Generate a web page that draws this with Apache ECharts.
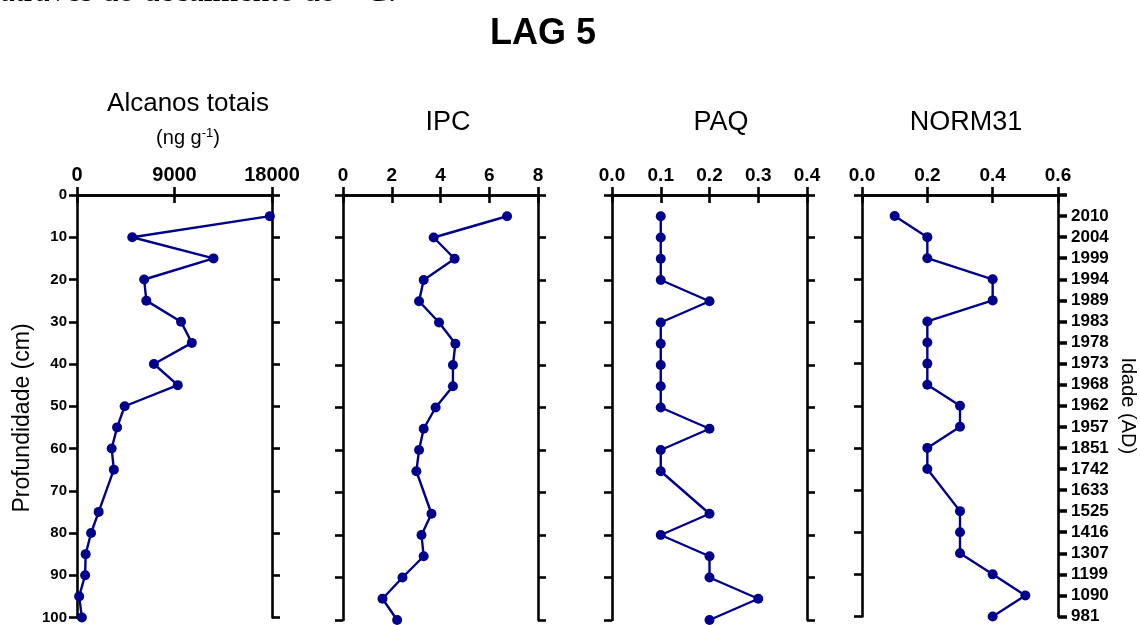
<!DOCTYPE html>
<html>
<head>
<meta charset="utf-8">
<script src="https://cdn.jsdelivr.net/npm/echarts@6/dist/echarts.min.js"></script>
<style>
  html, body { margin: 0; padding: 0; background: #fff; }
  #chart { width: 1140px; height: 625px; }
</style>
</head>
<body>
<div id="chart"></div>
<script>
// profundidade (cm) de cada amostra
var depths = [5, 10, 15, 20, 25, 30, 35, 40, 45, 50, 55, 60, 65, 75, 80, 85, 90, 95, 100]
var alcanos = [17800, 5100, 12600, 6200, 6400, 9600, 10600, 7100, 9300, 4400, 3700, 3200, 3400, 2000, 1300, 800, 750, 200, 450]
var ipc = [6.73, 3.72, 4.58, 3.31, 3.12, 3.94, 4.61, 4.51, 4.51, 3.8, 3.31, 3.12, 3.01, 3.63, 3.22, 3.31, 2.44, 1.62, 2.22]
var paq = [0.1, 0.1, 0.1, 0.1, 0.2, 0.1, 0.1, 0.1, 0.1, 0.1, 0.2, 0.1, 0.1, 0.2, 0.1, 0.2, 0.2, 0.3, 0.2]
var norm31 = [0.1, 0.2, 0.2, 0.4, 0.4, 0.2, 0.2, 0.2, 0.2, 0.3, 0.3, 0.2, 0.2, 0.3, 0.3, 0.3, 0.4, 0.5, 0.4]

// idade (AD) no eixo da direita
var ageDepths = [5, 10, 15, 20, 25, 30, 35, 40, 45, 50, 55, 60, 65, 70, 75, 80, 85, 90, 95, 100]
var ages = ['2010', '2004', '1999', '1994', '1989', '1983', '1978', '1973', '1968', '1962', '1957', '1851', '1742', '1633', '1525', '1416', '1307', '1199', '1090', '981']

var panels = [
  { name: 'alcanos', data: alcanos, min: 0, max: 18000, interval: 9000, dec: 0, left: 77, width: 195 },
  { name: 'ipc', data: ipc, min: 0, max: 8, interval: 2, dec: 0, left: 343, width: 195 },
  { name: 'paq', data: paq, min: 0, max: 0.4, interval: 0.1, dec: 1, left: 612, width: 195 },
  { name: 'norm31', data: norm31, min: 0, max: 0.6, interval: 0.2, dec: 1, left: 862, width: 196 }
]

var black = '#000'
var navy = '#00008b'
var font = 'Arial, "Liberation Sans"'
var lineStyle = { color: black, width: 2.6 }
var tickStyle = { color: black, width: 2.6 }

var chart = echarts.init(document.getElementById('chart'), null, { renderer: 'canvas' })

var grid = [], xAxis = [], yAxis = [], series = []

panels.forEach(function (p, i) {
  grid.push({ left: p.left, width: p.width, top: 195, bottom: 5, containLabel: false })

  // eixo superior com rótulos
  xAxis.push({
    type: 'value', gridIndex: i, position: 'top',
    min: p.min, max: p.max, interval: p.interval,
    axisLine: { show: true, lineStyle: lineStyle },
    axisTick: { show: true, inside: false, length: 8, lineStyle: tickStyle },
    axisLabel: {
      margin: 10, color: black, fontFamily: font, fontWeight: 'bold',
      fontSize: i == 0 ? 20 : 19,
      formatter: function (v) { return v.toFixed(p.dec) }
    },
    splitLine: { show: false }
  })
  // eixo inferior, só traços
  xAxis.push({
    type: 'value', gridIndex: i, position: 'bottom',
    min: p.min, max: p.max, interval: p.interval,
    axisLine: { show: true, lineStyle: lineStyle },
    axisTick: { show: true, inside: false, length: 8, lineStyle: tickStyle },
    axisLabel: { show: false },
    splitLine: { show: false }
  })

  // profundidade à esquerda
  yAxis.push({
    type: 'value', gridIndex: i, position: 'left', inverse: true,
    min: 0, max: 100, interval: 10,
    axisLine: { show: true, onZero: false, lineStyle: lineStyle },
    axisTick: { show: true, inside: false, length: 8, lineStyle: tickStyle },
    axisLabel: {
      show: i == 0, margin: 10, color: black, fontSize: 15, fontWeight: 'bold', fontFamily: font
    },
    splitLine: { show: false }
  })

  // direita: traços, e idades no último painel
  var last = i == panels.length - 1
  yAxis.push({
    type: 'value', gridIndex: i, position: 'right', inverse: true,
    min: 0, max: 100, interval: last ? 5 : 10,
    name: last ? 'Idade (AD)' : '',
    nameLocation: 'middle', nameGap: 60, nameRotate: -90,
    nameTextStyle: { color: black, fontSize: 20, fontFamily: font },
    axisLine: { show: true, onZero: false, lineStyle: lineStyle },
    axisTick: { show: true, inside: false, length: last ? 9 : 8, lineStyle: { color: black, width: last ? 3.5 : 2.6 } },
    axisLabel: {
      show: last, margin: 13, color: black, fontSize: 17, fontWeight: 'bold', fontFamily: font,
      formatter: function (v) {
        var k = ageDepths.indexOf(v)
        return k < 0 ? '' : ages[k]
      }
    },
    splitLine: { show: false }
  })

  series.push({
    name: p.name, type: 'line',
    xAxisIndex: i * 2, yAxisIndex: i * 2,
    data: p.data.map(function (v, k) { return [v, depths[k]] }),
    symbol: 'circle', symbolSize: 10,
    lineStyle: { color: navy, width: 2.4 },
    itemStyle: { color: navy },
    animation: false
  })
})

var titles = [
  { text: 'LAG 5', left: 538, top: 11, textAlign: 'center', textStyle: { fontSize: 36, fontWeight: 'bold', color: black, fontFamily: font } },
  { text: 'Alcanos totais', left: 183, top: 86, textAlign: 'center', textStyle: { fontSize: 26, fontWeight: 'normal', color: black, fontFamily: font } },
  {
    text: '(ng g{sup|-1})', left: 183, top: 122, textAlign: 'center',
    textStyle: {
      fontSize: 20, fontWeight: 'normal', color: black, fontFamily: font,
      rich: { sup: { fontSize: 13, verticalAlign: 'top', padding: [0, 0, 10, 0], color: black, fontFamily: font } }
    }
  },
  { text: 'IPC', left: 443, top: 104, textAlign: 'center', textStyle: { fontSize: 27, fontWeight: 'normal', color: black, fontFamily: font } },
  { text: 'PAQ', left: 716, top: 104, textAlign: 'center', textStyle: { fontSize: 27, fontWeight: 'normal', color: black, fontFamily: font } },
  { text: 'NORM31', left: 961, top: 104, textAlign: 'center', textStyle: { fontSize: 27, fontWeight: 'normal', color: black, fontFamily: font } }
]

chart.setOption({
  backgroundColor: '#fff',
  animation: false,
  title: titles,
  grid: grid,
  xAxis: xAxis,
  yAxis: yAxis,
  series: series,
  graphic: [
    {
      type: 'text', left: 0, top: -24,
      style: { text: 'através do decaimento do ¹⁴C.', font: '33px "Liberation Serif"', fill: black }
    },
    {
      type: 'text', x: 23, y: 418, rotation: Math.PI / 2,
      style: { text: 'Profundidade (cm)', font: '23px Arial, "Liberation Sans"', fill: black, align: 'center', verticalAlign: 'middle' }
    }
  ]
})
</script>
</body>
</html>
